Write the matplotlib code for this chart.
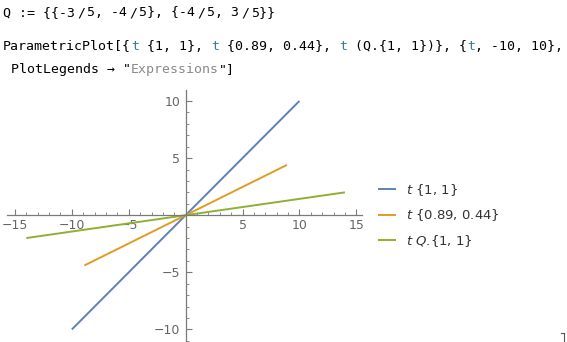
import matplotlib
matplotlib.use("Agg")
import matplotlib.pyplot as plt
from matplotlib.ticker import MultipleLocator, FuncFormatter
from matplotlib.lines import Line2D

# ---- data (segment end points) ----
labels = ["$t$ {1, 1}", "$t$ {0.89, 0.44}", "$t$ $Q$.{1, 1}"]
xs = [[-10, 10], [-8.9, 8.9], [14, -14]]
ys = [[-10, 10], [-4.4, 4.4], [2, -2]]
colors = ["#5E81B5", "#E19C24", "#8FB032"]
xticks_major = [-15, -10, -5, 5, 10, 15]
yticks_major = [-10, -5, 5, 10]

W, H = 567, 342
fig = plt.figure(figsize=(W / 100, H / 100), dpi=100)

# ---- code text at top ----
mono = "DejaVu Sans Mono"
fs = 9.5
code_col = "#000000"
tcol = "#3b7c94"
gray = "#8a8a8a"
renderer = fig.canvas.get_renderer()


def draw_pieces(x0, y, pieces, gap=0.0):
    x = x0 / W
    for s, c in pieces:
        t = fig.text(x, 1 - y / H, s, family=mono, fontsize=fs, color=c,
                     va="center", ha="left")
        bb = t.get_window_extent(renderer=renderer)
        x += (bb.width + gap) / W


line1 = [("Q := {{-3", code_col), ("/", code_col), ("5, -4", code_col), ("/", code_col),
         ("5}, {-4", code_col), ("/", code_col), ("5, 3", code_col), ("/", code_col),
         ("5}}", code_col)]
draw_pieces(3, 13, line1, gap=2.0)

pieces2 = [("ParametricPlot[{", code_col), ("t", tcol), (" {1, 1}, ", code_col),
           ("t", tcol), (" {0.89, 0.44}, ", code_col), ("t", tcol),
           (" (Q.{1, 1})}, {", code_col), ("t", tcol), (", -10, 10},", code_col)]
draw_pieces(3, 46, pieces2)

pieces3 = [("PlotLegends \u2192 \"", code_col), ("Expressions", gray), ("\"]", code_col)]
draw_pieces(11, 70, pieces3)

# ---- axes ----
ax_left, ax_right = 7, 362
ax_top, ax_bot = 90, 342
ax = fig.add_axes([ax_left / W, 1 - ax_bot / H, (ax_right - ax_left) / W, (ax_bot - ax_top) / H])
ax.set_xlim(-15.7, 15.5)
ax.set_ylim(-11.1, 10.96)

handles = []
for xv, yv, c, lab in zip(xs, ys, colors, labels):
    ln, = ax.plot(xv, yv, color=c, lw=1.4, label=lab, solid_capstyle="butt")
    handles.append(ln)

axis_col = "#7a7a7a"
lab_col = "#666666"
for s in ["top", "right"]:
    ax.spines[s].set_visible(False)
ax.spines["left"].set_position(("data", 0))
ax.spines["bottom"].set_position(("data", 0))
for s in ["left", "bottom"]:
    ax.spines[s].set_color(axis_col)
    ax.spines[s].set_linewidth(0.9)
ax.patch.set_visible(False)

ax.set_xticks(xticks_major)
ax.set_yticks(yticks_major)
ax.xaxis.set_minor_locator(MultipleLocator(1))
ax.yaxis.set_minor_locator(MultipleLocator(1))
fmt = FuncFormatter(lambda v, p: ("\u2212%d" % abs(v)) if v < 0 else "%d" % v)
ax.xaxis.set_major_formatter(fmt)
ax.yaxis.set_major_formatter(fmt)
ax.tick_params(which="major", direction="in", length=4.5, width=0.8, color=axis_col,
               labelsize=9, labelcolor=lab_col)
ax.tick_params(which="minor", direction="in", length=2.5, width=0.6, color=axis_col)
ax.tick_params(axis="x", which="major", pad=3)
ax.tick_params(axis="y", which="major", pad=4)
for lbl in ax.get_xticklabels() + ax.get_yticklabels():
    lbl.set_family("DejaVu Sans")

# ---- legend ----
leg = fig.legend(handles=handles, labels=labels, loc="upper left",
                 bbox_to_anchor=(378 / W, 1 - 182 / H), frameon=False,
                 fontsize=9.5, handlelength=1.4, handletextpad=0.75,
                 labelspacing=0.72, borderaxespad=0, borderpad=0)
for t in leg.get_texts():
    t.set_color("#333333")

# cell bracket at bottom right
fig.add_artist(Line2D([561 / W, 564 / W], [1 - 333 / H, 1 - 333 / H], color="#555555", lw=0.8))
fig.add_artist(Line2D([564 / W, 564 / W], [1 - 333 / H, 0], color="#555555", lw=0.8))

fig.savefig("out.png", dpi=100)
